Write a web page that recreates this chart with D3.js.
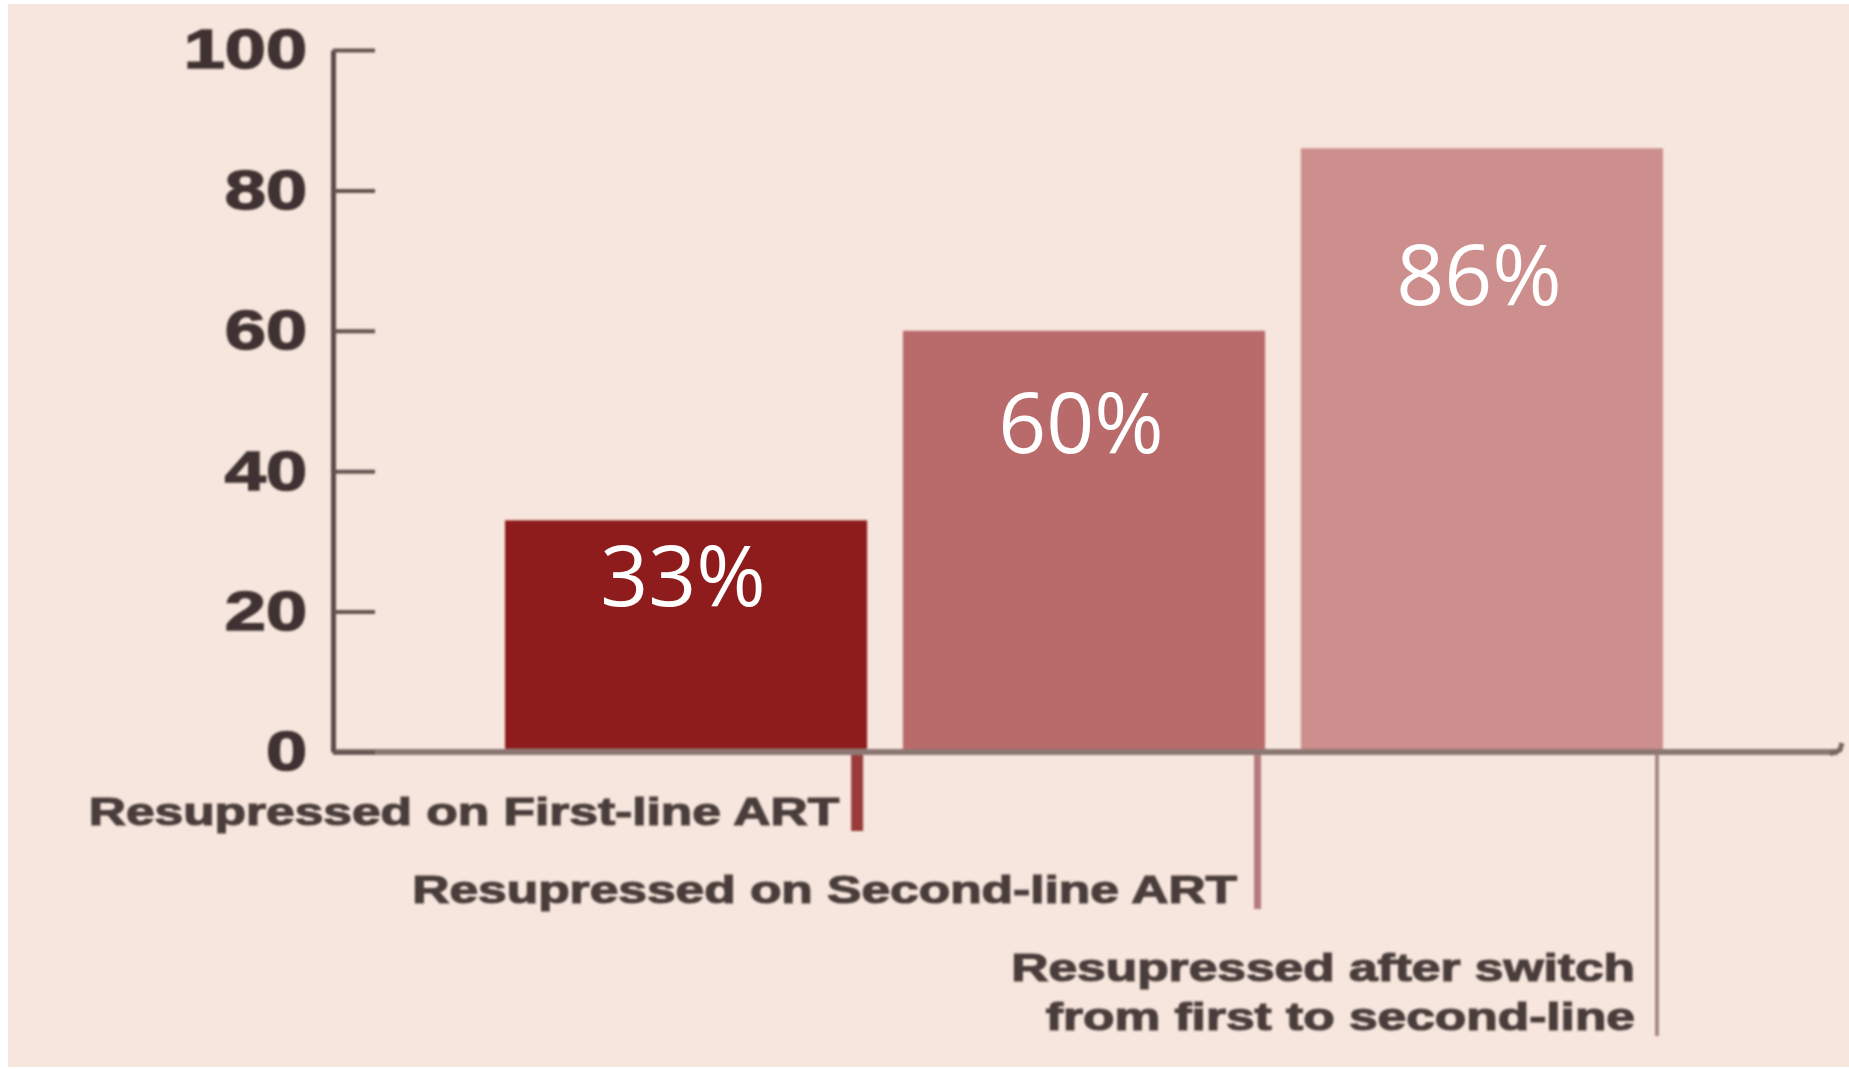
<html>
<head>
<meta charset="utf-8">
<style>
  body { margin: 0; background: #fff; }
</style>
</head>
<body>
<svg width="1849" height="1070"></svg>

<script src="https://cdn.jsdelivr.net/npm/d3@7"></script>
<script type="text/javascript">
const categories = [
  ["Resupressed on First-line ART"],
  ["Resupressed on Second-line ART"],
  ["Resupressed after switch", "from first to second-line"]
];
const values = [33, 60, 86];
const valueLabels = ["33%", "60%", "86%"];
const yTicks = [0, 20, 40, 60, 80, 100];

const barColors = ["#8f1a1c", "#b96a6a", "#cc8f8d"];
const leaderColors = ["#9a3a3a", "#b47c7c", "#a88886"];
const leaderWidths = [12, 7, 4];

let svg = d3.select("svg");

// soft edges, the original is a blurry scan
svg.append("defs").append("filter").attr("id", "soft")
  .append("feGaussianBlur").attr("stdDeviation", 1.2);

svg.append("rect").attr("x", 8).attr("y", 4).attr("width", 1841).attr("height", 1063).attr("fill", "#f7e6dd");

const y = d3.scaleLinear().domain([0, 100]).range([752, 50]);
const x = d3.scaleBand().domain(d3.range(values.length)).range([505, 1663]).paddingInner(0.09).paddingOuter(0);

let chart_g = svg.append("g").attr("filter", "url(#soft)");

// stretch text sideways, the scan uses a wide bold face
function widen(sel, k) {
  sel.each(function() {
    const w = this.getComputedTextLength();
    d3.select(this).attr("textLength", w * k).attr("lengthAdjust", "spacingAndGlyphs");
  });
}

// bars
chart_g.selectAll("rect.bar").data(values).join("rect")
  .attr("class", "bar")
  .attr("x", (d, i) => x(i))
  .attr("y", d => y(d))
  .attr("width", x.bandwidth())
  .attr("height", d => y(0) - y(d))
  .attr("fill", (d, i) => barColors[i]);

// leader lines running down to the labels
const rowBase = 825, rowStep = 78, lineStep = 49;
chart_g.selectAll("line.leader").data(values).join("line")
  .attr("class", "leader")
  .attr("x1", (d, i) => x(i) + x.bandwidth() - 4 - leaderWidths[i] / 2)
  .attr("x2", (d, i) => x(i) + x.bandwidth() - 4 - leaderWidths[i] / 2)
  .attr("y1", y(0))
  .attr("y2", (d, i) => rowBase + i * rowStep + (categories[i].length - 1) * lineStep + 6)
  .attr("stroke", (d, i) => leaderColors[i])
  .attr("stroke-width", (d, i) => leaderWidths[i]);

// x axis line with little hook at the end
chart_g.append("line")
  .attr("x1", 333).attr("x2", 1838).attr("y1", y(0)).attr("y2", y(0))
  .attr("stroke", "#8c7773").attr("stroke-width", 6);
chart_g.append("path")
  .attr("d", "M1830," + (y(0) + 2) + " L1840," + (y(0) - 2) + " L1842," + (y(0) - 9))
  .attr("fill", "none").attr("stroke", "#7a6662").attr("stroke-width", 5);

// y axis
let yAxis_g = chart_g.append("g").attr("transform", "translate(333,0)")
  .call(d3.axisLeft(y).tickValues(yTicks).tickSize(-42).tickSizeOuter(0).tickPadding(26));

yAxis_g.select(".domain").attr("stroke", "#5c4b49").attr("stroke-width", 5);
yAxis_g.selectAll(".tick line").attr("stroke", "#625250").attr("stroke-width", 4);
yAxis_g.selectAll(".tick text")
  .attr("fill", "#3f3331")
  .attr("stroke", "#3f3331")
  .attr("stroke-width", 1.5)
  .style("font-family", "'Liberation Sans', Arial, sans-serif")
  .style("font-weight", "bold")
  .style("font-size", "56px")
  .call(widen, 1.32);

// category labels
categories.forEach((lines, i) => {
  lines.forEach((t, j) => {
    chart_g.append("text")
      .attr("x", x(i) + x.bandwidth() - 28)
      .attr("y", rowBase + i * rowStep + j * lineStep)
      .attr("text-anchor", "end")
      .attr("fill", "#4a3d3b")
      .attr("stroke", "#4a3d3b")
      .attr("stroke-width", 1.2)
      .style("font-family", "'Liberation Sans', Arial, sans-serif")
      .style("font-weight", "bold")
      .style("font-size", "39px")
      .text(t)
      .call(widen, 1.32);
  });
});

// value labels, crisp white
svg.selectAll("text.val").data(values).join("text")
  .attr("class", "val")
  .attr("x", (d, i) => x(i) + x.bandwidth() / 2 - 3)
  .attr("y", d => y(d * 0.81 - 6))
  .attr("text-anchor", "middle")
  .attr("fill", "#ffffff")
  .style("font-family", "'Open Sans', sans-serif")
  .style("font-size", "84px")
  .text((d, i) => valueLabels[i]);
</script>
</body>
</html>
